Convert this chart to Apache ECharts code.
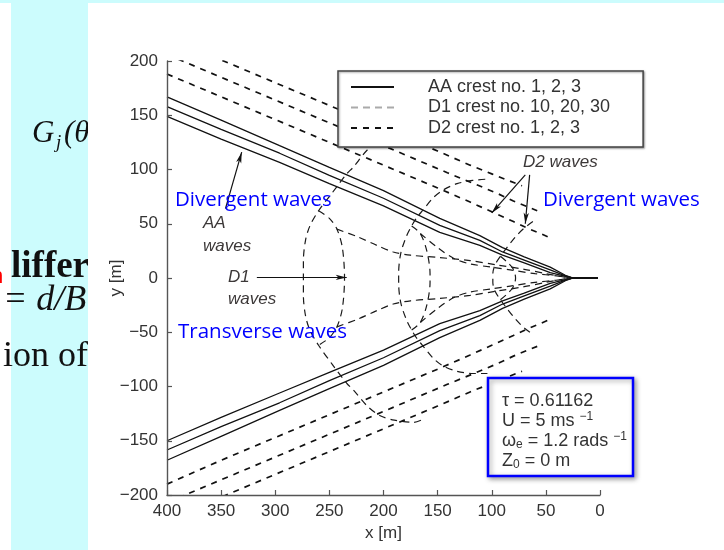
<!DOCTYPE html>
<html>
<head>
<meta charset="utf-8">
<script src="https://cdn.jsdelivr.net/npm/echarts@6/dist/echarts.min.js"></script>
<style>
  html, body { margin: 0; padding: 0; background: #fff; }
  #chart { width: 724px; height: 550px; }
</style>
</head>
<body>
<div id="chart"></div>
<script>
// Axis ranges in metres
const xRange = [0, 400];
const yRange = [-200, 200];
const tickStep = 50;

// AA crests no. 1, 2, 3 (upper and lower arms of the wedge), [x, y] in metres
const aaUpper1 = [[400,167],[350,145.5],[296,122],[250,102],[200,80.5],[148,55],[111,39],[90,28],[70,19.5],[46,10],[32,2.5],[25,0],[2,0]];
const aaUpper2 = [[400,158],[350,137],[296,115],[250,94.5],[200,73.5],[148,48.5],[111,34.7],[90,24],[70,16.5],[46,7.5],[32,2],[25,0],[2,0]];
const aaUpper3 = [[400,149],[350,128],[296,106.5],[250,87],[200,66.5],[148,42],[111,30],[90,21],[70,14],[46,5],[32,1.5],[25,0],[2,0]];
const aaLower1 = [[400,-150],[350,-128.5],[296,-106],[250,-87],[200,-66.5],[148,-42],[111,-30],[90,-21],[70,-14],[46,-5],[32,-1.5],[25,0],[2,0]];
const aaLower2 = [[400,-158.5],[350,-137],[296,-115],[250,-94.5],[200,-73.5],[148,-48.5],[111,-34.7],[90,-24],[70,-16.5],[46,-7.5],[32,-2],[25,0],[2,0]];
const aaLower3 = [[400,-168],[350,-146],[296,-122],[250,-102],[200,-80.5],[148,-55],[111,-39],[90,-28],[70,-19.5],[46,-10],[32,-2.5],[25,0],[2,0]];

// D2 crests no. 1, 2, 3 (outside the AA wedge)
const d2Upper1 = [[400,188],[350,167],[300,146],[250,125],[200,104],[150,83],[120,70],[100,61],[80,52],[65,45],[55,41],[46,37]];
const d2Upper2 = [[400,206],[350,185],[300,164],[250,143],[200,122],[141,97],[114,86],[95,78],[80,71],[68,66],[58,62]];
const d2Upper3 = [[400,222],[350,201],[300,180],[250,159],[200,138],[150,117],[120,104],[100,96],[85,90],[72,85]];
const d2Lower1 = [[400,-190],[350,-168],[300,-147],[250,-126],[200,-105],[150,-84],[120,-71],[100,-62],[80,-53],[65,-46],[55,-42],[46,-38]];
const d2Lower2 = [[400,-207],[350,-186],[300,-165],[250,-144],[200,-123],[141,-98],[114,-87],[95,-79],[80,-72],[68,-67],[58,-63]];
const d2Lower3 = [[400,-223],[350,-202],[300,-181],[250,-160],[200,-139],[150,-118],[120,-105],[100,-97],[85,-91],[72,-86]];

// D1 crest no. 30: outer loop, inner arc and the two trailing arms toward the source
const d1c30Outer = [[185,131],[203,127],[215,118],[228,102],[234,96],[247,79],[260,62],[268,48],[272,35],[274,16],[274,0],[274,-16],[272,-35],[268,-48],[260,-62],[247,-80],[234,-97],[228,-103],[215,-118],[203,-127],[190,-131],[172,-133],[163,-130]];
const d1c30Inner = [[260,62],[250,55],[243,45],[238,28],[236,0],[238,-28],[243,-45],[250,-55],[260,-62]];
const d1c30ArmUp = [[243,45],[224,38],[206,30],[191,24],[175,21],[150,19],[120,16],[95,12],[70,8],[50,4],[28,0]];
const d1c30ArmLo = [[243,-45],[224,-38],[206,-30],[191,-24],[175,-21],[150,-19],[120,-16],[95,-12],[70,-8],[50,-4],[28,0]];

// D1 crest no. 20
const d1c20Outer = [[106,91],[117,90],[132,87],[145,81],[154,74],[164,62],[169,56],[174,48],[179,38],[184,23],[186,5],[186,-5],[184,-23],[179,-38],[174,-48],[169,-56],[164,-62],[154,-74],[145,-81],[132,-86],[117,-88],[104,-88]];
const d1c20Inner = [[174,48],[166,41],[160,25],[157,4],[157,-4],[160,-25],[166,-41],[174,-48]];
const d1c20ArmUp = [[166,41],[150,28],[135,18],[120,13],[100,10],[80,7],[60,4],[40,2],[28,0]];
const d1c20ArmLo = [[166,-41],[150,-28],[135,-18],[120,-13],[100,-10],[80,-7],[60,-4],[40,-2],[28,0]];

// D1 crest no. 10
const d1c10Outer = [[62,52],[70,46],[78,38],[86,28],[92,20],[97,12],[99,4],[99,-4],[97,-12],[92,-20],[86,-28],[78,-38],[70,-46],[62,-52]];
const d1c10Inner = [[92,20],[85,14],[80,8],[78,0],[80,-8],[85,-14],[92,-20]];

// Annotation arrows: [from, to] in metres
const arrowAA = [[346,64],[331,116]];
const arrowD1 = [[317,0.5],[234,0.5]];
const arrowD2a = [[69,95],[100,60]];
const arrowD2b = [[65,95],[69,50]];

const AA = 'AA crest no. 1, 2, 3';
const D1 = 'D1 crest no. 10, 20, 30';
const D2 = 'D2 crest no. 1, 2, 3';

const SANS = "'Liberation Sans', Arial, Helvetica, sans-serif";
const SERIF = "'Liberation Serif', 'Times New Roman', serif";
const SLIDE_SANS = "'Open Sans', 'Noto Sans', sans-serif";

const aaStyle = { color: '#111', width: 1.3, type: 'solid' };
const d1Style = { color: '#1a1a1a', width: 1.2, type: [7, 5] };
const d2Style = { color: '#111', width: 1.7, type: [6, 6] };

function crest(name, data, style, smooth) {
  return {
    type: 'line', name: name, data: data,
    symbol: 'none', showSymbol: false, smooth: smooth || 0,
    lineStyle: style, itemStyle: { color: style.color },
    silent: true, clip: true, z: 3, animation: false
  };
}

const series = [
  crest(AA, aaUpper1, aaStyle), crest(AA, aaUpper2, aaStyle), crest(AA, aaUpper3, aaStyle),
  crest(AA, aaLower1, aaStyle), crest(AA, aaLower2, aaStyle), crest(AA, aaLower3, aaStyle),
  crest(D1, d1c30Outer, d1Style, 0.3), crest(D1, d1c30Inner, d1Style, 0.3),
  crest(D1, d1c30ArmUp, d1Style, 0.3), crest(D1, d1c30ArmLo, d1Style, 0.3),
  crest(D1, d1c20Outer, d1Style, 0.3), crest(D1, d1c20Inner, d1Style, 0.3),
  crest(D1, d1c20ArmUp, d1Style, 0.3), crest(D1, d1c20ArmLo, d1Style, 0.3),
  crest(D1, d1c10Outer, d1Style, 0.3), crest(D1, d1c10Inner, d1Style, 0.3),
  crest(D2, d2Upper1, d2Style), crest(D2, d2Upper2, d2Style), crest(D2, d2Upper3, d2Style),
  crest(D2, d2Lower1, d2Style), crest(D2, d2Lower2, d2Style), crest(D2, d2Lower3, d2Style),
  {
    type: 'line', name: 'arrows', data: [], silent: true, z: 6, animation: false,
    markLine: {
      silent: true, animation: false,
      symbol: ['none', 'arrow'], symbolSize: [4, 11],
      lineStyle: { color: '#111', width: 1.2, type: 'solid' },
      label: { show: false },
      data: [arrowAA, arrowD1, arrowD2a, arrowD2b].map(a => [{ coord: a[0] }, { coord: a[1] }])
    }
  }
];

function txt(x, y, text, font, fill, extra) {
  return {
    type: 'text', x: x, y: y, z: 20, silent: true,
    style: Object.assign({ text: text, font: font, fill: fill, align: 'left', verticalAlign: 'middle' }, extra || {})
  };
}
function slideTxt(x, y, text, font, fill) {
  return Object.assign(txt(x, y, text, font, fill), { z: 1 });
}

const cyan = '#ccfcfd';
const graphics = [
  // slide background behind the figure
  { type: 'rect', shape: { x: 0, y: 0, width: 724, height: 3 }, style: { fill: cyan }, z: 0, silent: true },
  { type: 'rect', shape: { x: 11, y: 3, width: 77, height: 547 }, style: { fill: cyan }, z: 0, silent: true },
  slideTxt(32, 134, 'G', 'italic 31px ' + SERIF, '#111'),
  slideTxt(56, 143, 'j', 'italic 19px ' + SERIF, '#111'),
  slideTxt(64, 134, '(θ', 'italic 31px ' + SERIF, '#111'),
  slideTxt(11, 267, 'liffer', 'bold 37px ' + SERIF, '#111'),
  slideTxt(-9, 277, 'n', '22px ' + SANS, '#ff0000'),
  slideTxt(3, 301, '= d/B', 'italic 36px ' + SERIF, '#111'),
  slideTxt(3, 357, 'ion of', '36px ' + SERIF, '#111'),
  // figure sheet covering the slide text to its right
  { type: 'rect', shape: { x: 88, y: 3, width: 22, height: 547 }, style: { fill: '#fff' }, z: 2, silent: true },

  // labels inside the figure
  txt(203, 223, 'AA', 'italic 17px ' + SANS, '#3c3838'),
  txt(203, 246, 'waves', 'italic 17px ' + SANS, '#3c3838'),
  txt(228, 277, 'D1', 'italic 17px ' + SANS, '#3c3838'),
  txt(228, 299, 'waves', 'italic 17px ' + SANS, '#3c3838'),
  txt(523, 162, 'D2 waves', 'italic 17px ' + SANS, '#3c3838'),

  // blue annotations
  txt(175, 200, 'Divergent waves', '20.5px ' + SLIDE_SANS, '#0000ff'),
  txt(543, 200, 'Divergent waves', '20.5px ' + SLIDE_SANS, '#0000ff'),
  txt(178, 332, 'Transverse waves', '20.5px ' + SLIDE_SANS, '#0000ff'),

  // parameter box
  {
    type: 'rect', z: 20, silent: true,
    shape: { x: 488, y: 378, width: 145, height: 98 },
    style: { fill: '#fff', stroke: '#0000ff', lineWidth: 2.5, shadowBlur: 5, shadowColor: 'rgba(0,0,0,0.35)', shadowOffsetX: 2, shadowOffsetY: 2 }
  },
  {
    type: 'text', x: 502, y: 391, z: 21, silent: true,
    style: {
      text: '{n|τ = 0.61162}\n{n|U = 5 ms }{sp|−1}\n{n|ω}{sb|e}{n| = 1.2 rads }{sp|−1}\n{n|Z}{sb|0}{n| = 0 m}',
      fill: '#333', font: '18px ' + SANS,
      rich: {
        n: { fontSize: 18, fontFamily: SANS, color: '#333', lineHeight: 20, verticalAlign: 'middle' },
        sp: { fontSize: 12, fontFamily: SANS, color: '#333', lineHeight: 20, verticalAlign: 'top' },
        sb: { fontSize: 12, fontFamily: SANS, color: '#333', lineHeight: 20, verticalAlign: 'bottom' }
      }
    }
  }
];

const chart = echarts.init(document.getElementById('chart'), null, { renderer: 'canvas' });
chart.setOption({
  animation: false,
  backgroundColor: '#fff',
  grid: { left: 167, right: 124, top: 61, bottom: 55 },
  xAxis: {
    type: 'value', min: xRange[0], max: xRange[1], interval: tickStep, inverse: true, z: 10,
    position: 'bottom',
    name: 'x [m]', nameLocation: 'middle', nameGap: 30, nameMoveOverlap: false,
    nameTextStyle: { fontFamily: SANS, fontSize: 17, color: '#333' },
    axisLine: { show: true, onZero: false, lineStyle: { color: '#555', width: 1.4 } },
    axisTick: { show: true, inside: true, length: 5, lineStyle: { color: '#555', width: 1.2 } },
    axisLabel: { fontFamily: SANS, fontSize: 17, color: '#333', margin: 8 },
    splitLine: { show: false }
  },
  yAxis: {
    type: 'value', min: yRange[0], max: yRange[1], interval: tickStep, z: 10,
    position: 'left',
    name: 'y [m]', nameLocation: 'middle', nameGap: 42, nameRotate: 90, nameMoveOverlap: false,
    nameTextStyle: { fontFamily: SANS, fontSize: 17, color: '#333' },
    axisLine: { show: true, onZero: false, lineStyle: { color: '#555', width: 1.4 } },
    axisTick: { show: true, inside: true, length: 5, lineStyle: { color: '#555', width: 1.2 } },
    axisLabel: {
      fontFamily: SANS, fontSize: 17, color: '#333', margin: 9,
      formatter: v => (v < 0 ? '\u2212' + Math.abs(v) : String(v))
    },
    splitLine: { show: false }
  },
  legend: {
    left: 338, top: 71, orient: 'vertical', z: 8,
    itemWidth: 43, itemHeight: 14, itemGap: 2.5,
    padding: [7, 33, 10, 12],
    backgroundColor: '#fff', borderColor: '#444', borderWidth: 1.5,
    shadowColor: 'rgba(0,0,0,0.35)', shadowBlur: 2, shadowOffsetX: 1, shadowOffsetY: 1,
    selectedMode: false,
    itemStyle: { color: 'rgba(0,0,0,0)', borderColor: 'rgba(0,0,0,0)', borderWidth: 0, opacity: 0 },
    textStyle: { fontFamily: SANS, fontSize: 18, lineHeight: 16, color: '#333', padding: [0, 0, 0, 29] },
    data: [
      { name: AA },
      { name: D1, lineStyle: { color: '#aaa' } },
      { name: D2 }
    ]
  },
  graphic: { elements: graphics },
  series: series
});
</script>
</body>
</html>
